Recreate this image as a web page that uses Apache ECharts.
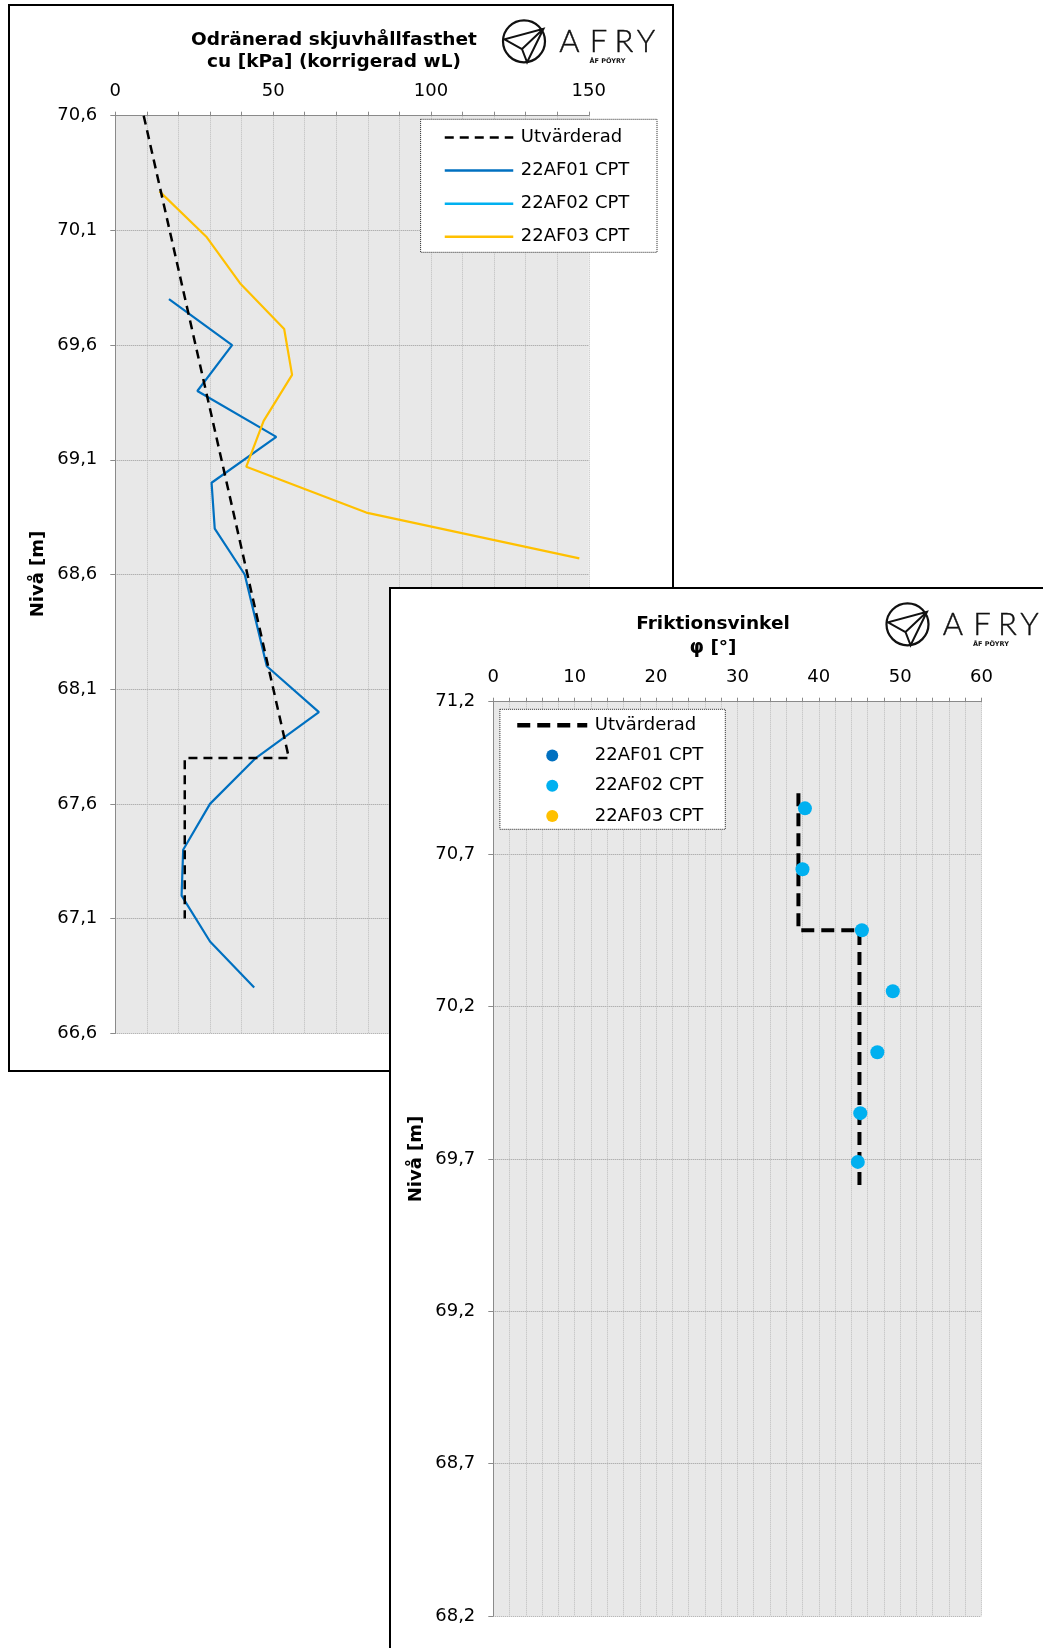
<!DOCTYPE html>
<html>
<head>
<meta charset="utf-8">
<script src="https://cdn.jsdelivr.net/npm/echarts@6/dist/echarts.min.js"></script>
<style>
  html, body { margin: 0; padding: 0; width: 1043px; height: 1648px; overflow: hidden; background: #fff; }
  .panel { position: absolute; border: 2px solid #000; box-sizing: border-box; background: #fff; }
  .chart { width: 100%; height: 100%; }
</style>
</head>
<body>
<div class="panel" id="p1" style="left:8px;top:4px;width:666px;height:1068px;"><div class="chart" id="c1"></div></div>
<div class="panel" id="p2" style="left:389px;top:587px;width:720px;height:1120px;"><div class="chart" id="c2"></div></div>
<script>
// ---- Undrained shear strength cu [kPa] vs level [m] ----
const cuTicksX = [0, 50, 100, 150];
const cuLevelRange = [66.6, 70.6];
const cuEvalX = [9, 55, 22, 22];
const cuEvalLevel = [70.6, 67.8, 67.8, 67.1];
const cuLevels01 = [69.8, 69.6, 69.4, 69.2, 69.0, 68.8, 68.6, 68.4, 68.2, 68.0, 67.8, 67.6, 67.4, 67.2, 67.0, 66.8];
const cu01 = [17, 37, 26, 51, 30.5, 31.5, 41, 44.5, 48, 64.5, 44.5, 30, 21.5, 21, 30, 44];
const cuLevels03 = [70.27, 70.07, 69.87, 69.67, 69.47, 69.27, 69.07, 68.87, 68.67];
const cu03 = [14, 29, 39.5, 53.5, 56, 47, 41.5, 79.5, 147];

// ---- Friction angle phi [deg] vs level [m] ----
const phiTicksX = [0, 10, 20, 30, 40, 50, 60];
const phiLevelRange = [68.2, 71.2];
const phiEvalX = [37.5, 37.5, 45, 45];
const phiEvalLevel = [70.9, 70.45, 70.45, 69.6];
const phiLevels02 = [70.85, 70.65, 70.45, 70.25, 70.05, 69.85, 69.69];
const phi02 = [38.3, 38.0, 45.3, 49.1, 47.2, 45.1, 44.8];

const seriesNames = ['Utvärderad', '22AF01 CPT', '22AF02 CPT', '22AF03 CPT'];
const colors = { eval: '#000000', af01: '#0070C0', af02: '#00B0F0', af03: '#FFC000' };

const FONT = 'DejaVu Sans';
const pairs = (xs, ys) => ys.map((y, i) => [xs[i], y]);
const levelFmt = v => v.toFixed(1).replace('.', ',');

function logo(cx, cy) {
  const pts = { L: [-19.5, -2], T: [19.5, -12.5], C: [-2, 7.8], B: [3.1, 21] };
  const P = k => [cx + pts[k][0], cy + pts[k][1]];
  const ln = { stroke: '#111', lineWidth: 2, fill: null };
  const letters = [['A', 45.5], ['F', 74.5], ['R', 100], ['Y', 122]];
  return [
    { type: 'circle', shape: { cx, cy, r: 21 }, style: { stroke: '#111', lineWidth: 2.2, fill: null } },
    { type: 'polyline', shape: { points: [P('C'), P('L'), P('T'), P('B'), P('C'), P('T')] }, style: ln },
    ...letters.map(([ch, dx]) => ({
      type: 'text', x: cx + dx, y: cy + 1,
      style: { text: ch, font: '300 31px Lato', fill: '#111', align: 'center', verticalAlign: 'middle', stroke: '#111', lineWidth: 0.4 }
    })),
    { type: 'text', x: cx + 83.5, y: cy + 20.4,
      style: { text: 'ÅF PÖYRY', font: 'bold 6.5px ' + FONT, fill: '#111', align: 'center', verticalAlign: 'middle' } }
  ];
}

function axisCommon() {
  return {
    axisLine: { show: true, lineStyle: { color: '#8a8a8a', width: 1 } },
    axisTick: { show: true, length: 5, lineStyle: { color: '#8a8a8a' } },
    axisLabel: { color: '#000', fontFamily: FONT, fontSize: 18 }
  };
}

// legend icons of line series: line only, no marker in the middle
const lineLegendItem = (name, width) => ({ name, lineStyle: { width }, itemStyle: { opacity: 0 } });

function buildOption(cfg) {
  const base = axisCommon();
  return {
    animation: false,
    grid: Object.assign({ show: true, backgroundColor: '#e8e8e8', borderWidth: 0 }, cfg.grid),
    xAxis: {
      type: 'value', position: 'top', min: cfg.xMin, max: cfg.xMax, interval: cfg.xInterval,
      axisLine: base.axisLine,
      axisTick: { show: true, length: 4, lineStyle: { color: '#8a8a8a' } },
      minorTick: { show: true, splitNumber: 5, length: 4, lineStyle: { color: '#8a8a8a' } },
      axisLabel: Object.assign({}, base.axisLabel, { margin: 15 }),
      splitLine: { show: true, lineStyle: { color: '#bcbcbc', type: 'dotted', width: 1 } },
      minorSplitLine: { show: true, lineStyle: { color: '#bcbcbc', type: 'dotted', width: 1 } }
    },
    yAxis: {
      type: 'value', min: cfg.yMin, max: cfg.yMax, interval: 0.5,
      axisLine: base.axisLine, axisTick: base.axisTick,
      axisLabel: Object.assign({}, base.axisLabel, { margin: 18, formatter: levelFmt }),
      splitLine: { show: true, lineStyle: { color: '#9a9a9a', type: 'dotted', width: 1 } }
    },
    legend: Object.assign({
      orient: 'vertical', padding: 0, z: 6,
      textStyle: { color: '#000', fontFamily: FONT, fontSize: 18, lineHeight: 20, padding: [0, 0, 0, 2.5] }
    }, cfg.legend),
    graphic: { elements: cfg.graphics },
    series: cfg.series
  };
}

// ---------- upper chart: cu ----------
const chart1 = echarts.init(document.getElementById('c1'), null, { renderer: 'canvas' });
chart1.setOption(buildOption({
  grid: { left: 105.3, top: 109.7, width: 473.5, height: 917.6 },
  xMin: cuTicksX[0], xMax: cuTicksX[cuTicksX.length - 1], xInterval: cuTicksX[1] - cuTicksX[0],
  yMin: cuLevelRange[0], yMax: cuLevelRange[1],
  legend: {
    left: 433.5, top: 121.5, itemGap: 13.1, itemWidth: 68.5, itemHeight: 14,
    data: seriesNames.map(n => lineLegendItem(n, 2.5))
  },
  graphics: [
    { type: 'text', x: 324, y: 34.3, style: { text: 'Odränerad skjuvhållfasthet', font: 'bold 18.5px ' + FONT, fill: '#000', align: 'center', verticalAlign: 'middle' } },
    { type: 'text', x: 324, y: 56, style: { text: 'cu [kPa] (korrigerad wL)', font: 'bold 18.5px ' + FONT, fill: '#000', align: 'center', verticalAlign: 'middle' } },
    { type: 'text', x: 27.9, y: 568, rotation: Math.PI / 2, style: { text: 'Nivå [m]', font: 'bold 18px ' + FONT, fill: '#000', align: 'center', verticalAlign: 'middle' } },
    { type: 'rect', z: 5, shape: { x: 410.6, y: 113.3, width: 236.4, height: 133 }, style: { fill: '#fff', stroke: '#222', lineWidth: 1, lineDash: [1, 1] } },
    ...logo(514, 35.3)
  ],
  series: [
    { name: seriesNames[0], type: 'line', symbol: 'none', data: pairs(cuEvalX, cuEvalLevel),
      lineStyle: { color: colors.eval, width: 2.5, type: [9, 6] }, itemStyle: { color: colors.eval }, z: 4 },
    { name: seriesNames[1], type: 'line', symbol: 'none', data: pairs(cu01, cuLevels01),
      lineStyle: { color: colors.af01, width: 2.2 }, itemStyle: { color: colors.af01 }, z: 3 },
    { name: seriesNames[2], type: 'line', symbol: 'none', data: [],
      lineStyle: { color: colors.af02, width: 2.2 }, itemStyle: { color: colors.af02 } },
    { name: seriesNames[3], type: 'line', symbol: 'none', data: pairs(cu03, cuLevels03),
      lineStyle: { color: colors.af03, width: 2.2 }, itemStyle: { color: colors.af03 }, z: 3 }
  ]
}));

// ---------- lower chart: phi ----------
const chart2 = echarts.init(document.getElementById('c2'), null, { renderer: 'canvas' });
chart2.setOption(buildOption({
  grid: { left: 102.3, top: 112.7, width: 488.2, height: 914.3 },
  xMin: phiTicksX[0], xMax: phiTicksX[phiTicksX.length - 1], xInterval: phiTicksX[1] - phiTicksX[0],
  yMin: phiLevelRange[0], yMax: phiLevelRange[1],
  legend: {
    left: 124, top: 126.3, itemGap: 10.2, itemWidth: 70, itemHeight: 12,
    data: [
      lineLegendItem(seriesNames[0], 4.5),
      { name: seriesNames[1] },
      { name: seriesNames[2] },
      { name: seriesNames[3] }
    ]
  },
  graphics: [
    { type: 'text', x: 322, y: 35.3, style: { text: 'Friktionsvinkel', font: 'bold 18.5px ' + FONT, fill: '#000', align: 'center', verticalAlign: 'middle' } },
    { type: 'text', x: 322, y: 58.7, style: { text: 'φ [°]', font: 'bold 18.5px ' + FONT, fill: '#000', align: 'center', verticalAlign: 'middle' } },
    { type: 'text', x: 25, y: 570, rotation: Math.PI / 2, style: { text: 'Nivå [m]', font: 'bold 18px ' + FONT, fill: '#000', align: 'center', verticalAlign: 'middle' } },
    { type: 'rect', z: 5, shape: { x: 108.9, y: 120.3, width: 225.4, height: 120 }, style: { fill: '#fff', stroke: '#222', lineWidth: 1, lineDash: [1, 1] } },
    ...logo(516.5, 35.3)
  ],
  series: [
    { name: seriesNames[0], type: 'line', symbol: 'none', data: pairs(phiEvalX, phiEvalLevel),
      lineStyle: { color: colors.eval, width: 4, type: [13, 7] }, itemStyle: { color: colors.eval }, z: 3 },
    { name: seriesNames[1], type: 'scatter', symbol: 'circle', symbolSize: 14, data: [], itemStyle: { color: colors.af01, opacity: 1 } },
    { name: seriesNames[2], type: 'scatter', symbol: 'circle', symbolSize: 14, data: pairs(phi02, phiLevels02),
      itemStyle: { color: colors.af02, opacity: 1 }, z: 4 },
    { name: seriesNames[3], type: 'scatter', symbol: 'circle', symbolSize: 14, data: [], itemStyle: { color: colors.af03, opacity: 1 } }
  ]
}));
</script>
</body>
</html>
